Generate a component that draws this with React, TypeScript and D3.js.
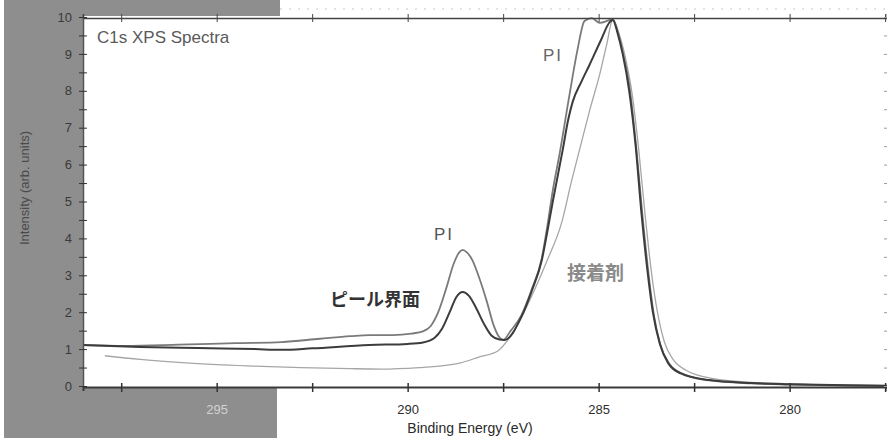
import * as d3 from 'd3';
import { LegacyRef, useEffect, useRef } from 'react';

// Binding energies (eV) and intensities
const piEnergy = [
  298.5, 297.4, 296.0, 294.5, 293.3, 292.3, 291.5, 291.0, 290.4, 289.9, 289.6,
  289.4, 289.2, 288.98, 288.8, 288.65, 288.56, 288.45, 288.3, 288.15, 287.93,
  287.75, 287.6, 287.5, 287.3, 287.02, 286.75, 286.49, 286.34, 286.2, 286.02,
  285.76, 285.55, 285.37, 285.18, 284.97, 284.76, 284.63, 284.5, 284.37, 284.19,
  284.01, 283.85, 283.7, 283.55, 283.38, 283.15, 282.8, 282.1, 281.0, 280.0,
  278.5, 277.45,
];
const piCounts = [
  1.11, 1.09, 1.12, 1.16, 1.19, 1.28, 1.35, 1.38, 1.38, 1.42, 1.48, 1.62, 2.0,
  2.68, 3.3, 3.62, 3.69, 3.62, 3.4, 3.0, 2.3, 1.65, 1.32, 1.25, 1.5, 1.92, 2.62,
  3.45, 4.35, 5.3, 6.3, 7.91, 9.13, 9.89, 9.97, 9.84, 9.9, 9.95, 9.6, 9.05, 8.1,
  6.4, 4.6, 3.1, 1.9, 1.1, 0.6, 0.33, 0.15, 0.07, 0.04, 0.01, 0.0,
];

const peelEnergy = [
  298.5, 297.0, 295.5, 294.0, 293.3, 292.5, 291.0, 290.0, 289.6, 289.3, 289.1,
  288.9, 288.72, 288.56, 288.4, 288.2, 288.0, 287.8, 287.6, 287.46, 287.02,
  286.75, 286.49, 286.34, 286.2, 285.94, 285.8, 285.68, 285.45, 285.24, 284.95,
  284.71, 284.63, 284.5, 284.37, 284.2, 284.03, 283.88, 283.73, 283.58, 283.4,
  283.18, 282.85, 282.1, 281.0, 280.0, 278.5, 277.45,
];
const peelCounts = [
  1.11, 1.06, 1.03, 1.0, 0.98, 1.02, 1.11, 1.14, 1.18, 1.3, 1.55, 2.0, 2.42,
  2.55, 2.45, 2.1, 1.68, 1.36, 1.26, 1.25, 1.88, 2.58, 3.4, 4.2, 5.0, 6.4, 7.2,
  7.7, 8.25, 8.7, 9.35, 9.86, 9.92, 9.55, 9.0, 8.0, 6.5, 4.7, 3.2, 2.0, 1.15,
  0.62, 0.34, 0.16, 0.08, 0.05, 0.02, 0.01,
];

const adhesiveEnergy = [
  297.93, 297.0, 296.0, 295.0, 294.0, 292.8, 291.5, 290.7, 289.7, 289.0, 288.64,
  288.12, 287.64, 287.2, 286.68, 286.34, 285.97, 285.71, 285.45, 285.24, 284.97,
  284.79, 284.63, 284.45, 284.3, 284.12, 283.95, 283.78, 283.62, 283.46, 283.28,
  283.05, 282.7, 282.0, 281.0, 280.0, 278.5, 277.45,
];
const adhesiveCounts = [
  0.82, 0.72, 0.64, 0.58, 0.54, 0.5, 0.47, 0.46, 0.5, 0.56, 0.62, 0.79, 0.95,
  1.52, 2.6, 3.42, 4.42, 5.55, 6.6, 7.45, 8.45, 9.25, 9.92, 9.5, 8.9, 7.9, 6.4,
  4.6, 3.1, 2.0, 1.2, 0.72, 0.42, 0.2, 0.1, 0.06, 0.02, 0.01,
];

const xTicks = [297.5, 295, 292.5, 290, 287.5, 285, 282.5, 280, 277.5];
const xLabels = [295, 290, 285, 280];
const yTicks = d3.range(0, 10.01, 0.5);

function App() {
  const chartRef = useRef<SVGSVGElement>();

  const width = 887;
  const height = 442;
  const margin = { top: 18, right: 0, bottom: 55, left: 83 };

  useEffect(() => {
    // @ts-expect-error ref typing
    const root = d3.select(chartRef.current);
    root.selectAll('*').remove();

    const x = d3
      .scaleLinear()
      .domain([298.5, 277.45])
      .range([margin.left, width - margin.right]);
    const y = d3
      .scaleLinear()
      .domain([0, 10])
      .range([386, 17]);

    // scan shading round the frame
    const shade = '#8e8e8e';
    root.append('rect').attr('x', 4).attr('y', 0).attr('width', 79).attr('height', 438).attr('fill', shade);
    root.append('rect').attr('x', 4).attr('y', 0).attr('width', 276).attr('height', 16).attr('fill', shade);
    root.append('rect').attr('x', 4).attr('y', 387).attr('width', 273).attr('height', 51).attr('fill', shade);

    // faint dotted scan line above the frame
    root
      .append('line')
      .attr('x1', 280)
      .attr('x2', width)
      .attr('y1', 9)
      .attr('y2', 9)
      .attr('stroke', '#c8c8c8')
      .attr('stroke-dasharray', '2,7');

    // clip for curves
    root
      .append('clipPath')
      .attr('id', 'plot-clip')
      .append('rect')
      .attr('x', margin.left)
      .attr('y', 17)
      .attr('width', width - margin.left)
      .attr('height', 370);

    const line = d3
      .line<[number, number]>()
      .x((d) => x(d[0]))
      .y((d) => y(d[1]))
      .curve(d3.curveMonotoneX);

    const series = [
      { e: adhesiveEnergy, c: adhesiveCounts, color: '#a6a6a6', w: 1.3 },
      { e: piEnergy, c: piCounts, color: '#7a7a7a', w: 1.8 },
      { e: peelEnergy, c: peelCounts, color: '#3c3c3c', w: 2 },
    ];

    const plot = root.append('g').attr('clip-path', 'url(#plot-clip)');
    series.forEach((s) => {
      const pts = s.e.map((v, i) => [v, s.c[i]] as [number, number]);
      plot
        .append('path')
        .attr('d', line(pts))
        .attr('fill', 'none')
        .attr('stroke', s.color)
        .attr('stroke-width', s.w)
        .attr('stroke-linejoin', 'round');
    });

    // bottom axis
    const bottom = root
      .append('g')
      .attr('transform', 'translate(0,387)')
      .call(
        d3
          .axisBottom(x)
          .tickValues(xTicks)
          .tickSizeOuter(0)
          .tickSize(4)
          .tickPadding(14)
          .tickFormat((d) => (xLabels.includes(+d) ? String(d) : ''))
      );
    bottom.select('.domain').attr('stroke', '#3a3a3a').attr('stroke-width', 2);
    bottom.selectAll('.tick line').attr('y1', -4).attr('y2', 5).attr('stroke', '#333').attr('stroke-width', 1.5);
    bottom
      .selectAll('.tick text')
      .attr('font-family', 'Arial, "Liberation Sans", sans-serif')
      .attr('font-size', 13)
      .attr('fill', (d) => (+d === 295 ? '#d2d2d2' : '#2e2e2e'));

    // top axis
    const top = root
      .append('g')
      .attr('transform', 'translate(0,18)')
      .call(d3.axisTop(x).tickValues(xTicks).tickSizeOuter(0).tickSize(4).tickFormat(() => ''));
    top.select('.domain').attr('stroke', '#444').attr('stroke-width', 1.6);
    top.selectAll('.tick line').attr('y1', -4).attr('y2', 4).attr('stroke', '#444');

    // left axis
    const left = root
      .append('g')
      .attr('transform', `translate(${margin.left},0)`)
      .call(
        d3
          .axisLeft(y)
          .tickValues(yTicks)
          .tickSize(4)
          .tickSizeOuter(0)
          .tickPadding(7)
          .tickFormat((d) => (+d % 1 === 0 ? String(d) : ''))
      );
    left.select('.domain').attr('stroke', '#555').attr('stroke-width', 1.5);
    left.selectAll('.tick line').attr('x1', -4).attr('x2', 4).attr('stroke', '#333');
    left
      .selectAll('.tick text')
      .attr('font-family', 'Arial, "Liberation Sans", sans-serif')
      .attr('font-size', 13)
      .attr('fill', '#3a3a3a');

    // right axis, tick marks only
    const right = root
      .append('g')
      .attr('transform', 'translate(885,0)')
      .call(d3.axisRight(y).tickValues(yTicks).tickSize(2).tickSizeOuter(0).tickFormat(() => ''));
    right.select('.domain').remove();
    right.selectAll('.tick line').attr('x1', -1).attr('stroke', '#9a9a9a');

    // axis titles
    root
      .append('text')
      .attr('x', 470)
      .attr('y', 433)
      .attr('text-anchor', 'middle')
      .attr('font-family', 'Arial, "Liberation Sans", sans-serif')
      .attr('font-size', 14)
      .attr('fill', '#2a2a2a')
      .text('Binding Energy (eV)');

    root
      .append('text')
      .attr('transform', 'translate(29,188) rotate(-90)')
      .attr('text-anchor', 'middle')
      .attr('font-family', 'Arial, "Liberation Sans", sans-serif')
      .attr('font-size', 13)
      .attr('fill', '#4a4a4a')
      .text('Intensity (arb. units)');

    // annotations
    const labels = [
      { t: 'C1s XPS Spectra', x: 97, y: 43, size: 17, fill: '#5a5a5a', weight: 'normal', anchor: 'start' },
      { t: 'PI', x: 553, y: 61, size: 17, fill: '#666', weight: 'normal', anchor: 'middle' },
      { t: 'PI', x: 444, y: 240, size: 17, fill: '#555', weight: 'normal', anchor: 'middle' },
      { t: 'ピール界面', x: 330, y: 306, size: 18, fill: '#333', weight: 'bold', anchor: 'start' },
      { t: '接着剤', x: 567, y: 280, size: 19, fill: '#8a8a8a', weight: 'bold', anchor: 'start' },
    ];
    labels.forEach((l) => {
      root
        .append('text')
        .attr('x', l.x)
        .attr('y', l.y)
        .attr('text-anchor', l.anchor)
        .attr('font-family', 'Arial, "Liberation Sans", "Noto Sans CJK JP", sans-serif')
        .attr('font-size', l.size)
        .attr('font-weight', l.weight)
        .attr('letter-spacing', l.t === 'PI' ? 2 : 0)
        .attr('fill', l.fill)
        .text(l.t);
    });
  }, []);

  return (
    <svg
      ref={chartRef as LegacyRef<SVGSVGElement>}
      width={width}
      height={height}
      style={{ position: 'absolute', left: 0, top: 0, background: '#fff' }}
    />
  );
}

export default App;
